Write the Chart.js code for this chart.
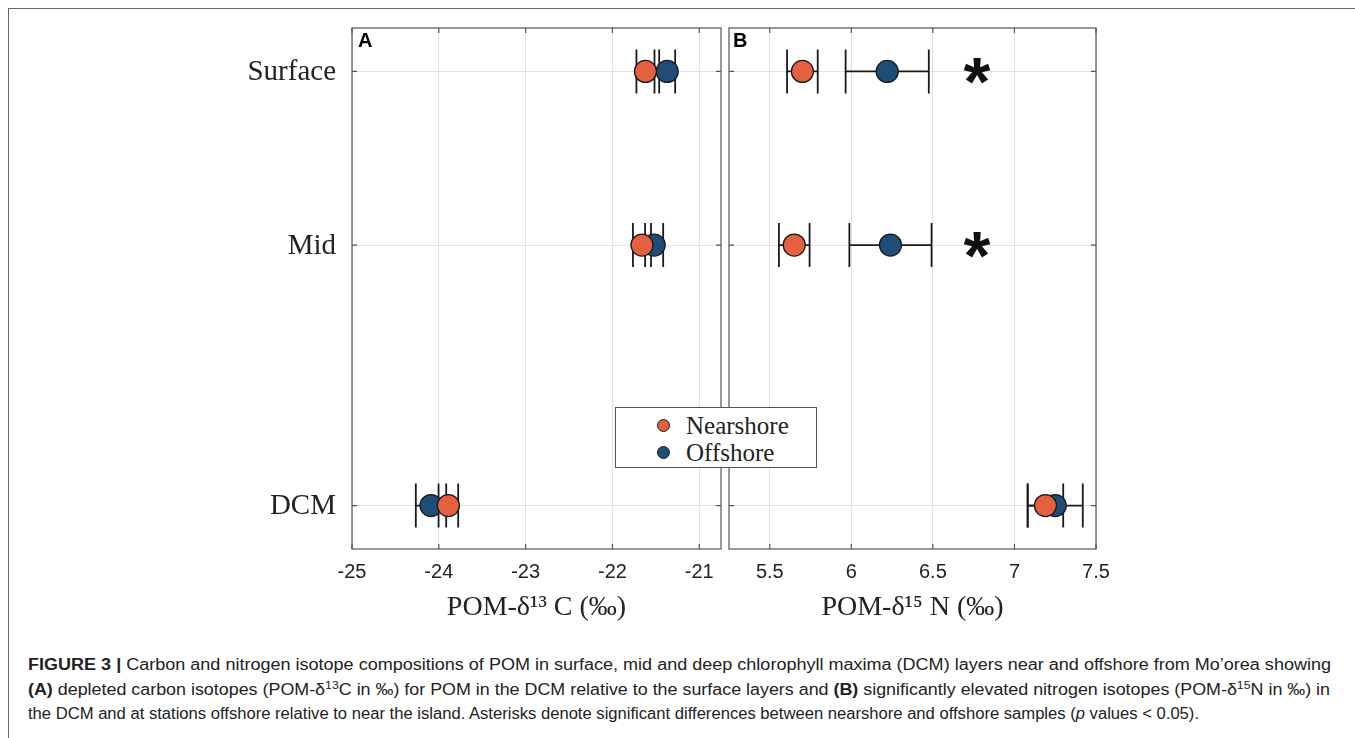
<!DOCTYPE html>
<html>
<head>
<meta charset="utf-8">
<script src="https://cdn.jsdelivr.net/npm/chart.js@4.4.1/dist/chart.umd.min.js"></script>
<style>
html,body{margin:0;padding:0;background:#fff;width:1355px;height:738px;overflow:hidden;position:relative;}
#frame{position:absolute;left:8px;top:8px;width:1400px;height:800px;border-top:1.5px solid #666;border-left:1.5px solid #666;}
#wrapA{position:absolute;left:200px;top:0;width:525px;height:640px;}
#wrapB{position:absolute;left:725px;top:0;width:400px;height:640px;}
canvas{display:block;}
#legend{position:absolute;left:615px;top:407px;width:200px;height:59px;border:1px solid #555;background:#fff;font-family:"Liberation Serif",serif;font-size:25px;color:#222;}
#legend .row{position:absolute;left:0;height:28px;line-height:28px;white-space:nowrap;}
#legend .dot{position:absolute;left:41px;top:7px;width:13px;height:13px;border-radius:50%;border:1px solid #1a1a1a;box-sizing:border-box;}
#legend .txt{position:absolute;left:70px;top:0;}
#caption{position:absolute;left:28px;top:653px;font-family:"Liberation Sans",Arial,sans-serif;font-size:16px;color:#222;}
#caption .cl{height:24.5px;line-height:24.5px;white-space:nowrap;transform-origin:0 50%;}
#caption sup{font-size:11px;line-height:0;vertical-align:6px;}
</style>
</head>
<body>
<div id="frame"></div>
<div id="wrapA"><canvas id="chartA" width="525" height="640"></canvas></div>
<div id="wrapB"><canvas id="chartB" width="400" height="640"></canvas></div>
<div id="legend">
  <div class="row" style="top:4px;width:200px"><span class="dot" id="dotNear"></span><span class="txt" id="txtNear"></span></div>
  <div class="row" style="top:31px;width:200px"><span class="dot" id="dotOff"></span><span class="txt" id="txtOff"></span></div>
</div>
<div id="caption">
  <div class="cl" data-w="1303"><b>FIGURE 3 |</b> Carbon and nitrogen isotope compositions of POM in surface, mid and deep chlorophyll maxima (DCM) layers near and offshore from Mo’orea showing</div>
  <div class="cl" data-w="1302"><b>(A)</b> depleted carbon isotopes (POM-δ<sup>13</sup>C in ‰) for POM in the DCM relative to the surface layers and <b>(B)</b> significantly elevated nitrogen isotopes (POM-δ<sup>15</sup>N in ‰) in</div>
  <div class="cl" data-w="1171">the DCM and at stations offshore relative to near the island. Asterisks denote significant differences between nearshore and offshore samples (<i>p</i> values &lt; 0.05).</div>
</div>
<script>
// ---- data ----
const layers = ['Surface', 'Mid', 'DCM'];
const layerPos = [1, 2, 3.5];
const seriesNames = ['Nearshore', 'Offshore'];
const carbonTicks = [-25, -24, -23, -22, -21];
const nitrogenTicks = [5.5, 6, 6.5, 7, 7.5];
const carbonNear = [-21.62, -21.66, -23.89];
const carbonNearErr = [0.104, 0.104, 0.113];
const carbonOff = [-21.37, -21.52, -24.09];
const carbonOffErr = [0.092, 0.104, 0.175];
const nitrogenNear = [5.70, 5.65, 7.19];
const nitrogenNearErr = [0.094, 0.094, 0.109];
const nitrogenOff = [6.22, 6.24, 7.25];
const nitrogenOffErr = [0.255, 0.252, 0.169];
const significant = [true, true, false];
const asteriskAt = 6.77;

const NEAR_COLOR = '#E5603E';
const OFF_COLOR = '#1E4D78';
const EDGE = '#1a1a1a';
const GRID = '#e2e2e2';
const FRAME = '#555';

document.getElementById('dotNear').style.background = NEAR_COLOR;
document.getElementById('dotOff').style.background = OFF_COLOR;
document.getElementById('txtNear').textContent = seriesNames[0];
document.getElementById('txtOff').textContent = seriesNames[1];

function drawAsterisk(ctx, cx, cy, inkW) {
  ctx.save();
  ctx.font = 'bold 100px "Liberation Sans"';
  let m = ctx.measureText('*');
  const w0 = m.actualBoundingBoxLeft + m.actualBoundingBoxRight;
  const size = 100 * inkW / w0;
  ctx.font = 'bold ' + size + 'px "Liberation Sans"';
  ctx.textAlign = 'left';
  ctx.textBaseline = 'alphabetic';
  m = ctx.measureText('*');
  const dx = cx - (m.actualBoundingBoxRight - m.actualBoundingBoxLeft) / 2;
  const dy = cy + (m.actualBoundingBoxAscent - m.actualBoundingBoxDescent) / 2;
  ctx.fillStyle = '#111';
  ctx.fillText('*', dx, dy);
  ctx.restore();
}

function panelPlugin(cfg) {
  return {
    id: 'panel' + cfg.letter,
    beforeDatasetsDraw(chart) {
      const ctx = chart.ctx, x = chart.scales.x, y = chart.scales.y;
      ctx.save();
      ctx.strokeStyle = EDGE;
      ctx.lineWidth = 1.8;
      chart.data.datasets.forEach(ds => {
        ds.data.forEach((p, i) => {
          const e = ds.err[i];
          const x0 = x.getPixelForValue(p.x - e), x1 = x.getPixelForValue(p.x + e);
          const yy = y.getPixelForValue(p.y);
          ctx.beginPath();
          ctx.moveTo(x0, yy); ctx.lineTo(x1, yy);
          ctx.moveTo(x0, yy - 22); ctx.lineTo(x0, yy + 22);
          ctx.moveTo(x1, yy - 22); ctx.lineTo(x1, yy + 22);
          ctx.stroke();
        });
      });
      ctx.restore();
    },
    afterDraw(chart) {
      const ctx = chart.ctx, a = chart.chartArea, x = chart.scales.x, y = chart.scales.y;
      ctx.save();
      ctx.strokeStyle = FRAME;
      ctx.lineWidth = 1.2;
      ctx.strokeRect(a.left, a.top, a.right - a.left, a.bottom - a.top);
      ctx.beginPath();
      cfg.ticks.forEach(v => {
        const px = x.getPixelForValue(v);
        ctx.moveTo(px, a.top); ctx.lineTo(px, a.top + 5);
        ctx.moveTo(px, a.bottom); ctx.lineTo(px, a.bottom - 5);
      });
      layerPos.forEach(v => {
        const py = y.getPixelForValue(v);
        ctx.moveTo(a.left, py); ctx.lineTo(a.left + 5, py);
        ctx.moveTo(a.right, py); ctx.lineTo(a.right - 5, py);
      });
      ctx.stroke();
      // category labels (left panel only), placed with the y scale
      if (cfg.showY) {
        ctx.fillStyle = '#222';
        ctx.font = '29px "Liberation Serif"';
        ctx.textAlign = 'right';
        ctx.textBaseline = 'middle';
        layers.forEach((lab, i) => ctx.fillText(lab, a.left - 16, y.getPixelForValue(layerPos[i]) + 1));
      }
      ctx.fillStyle = '#000';
      ctx.font = 'bold 20px "Liberation Sans"';
      ctx.textBaseline = 'alphabetic';
      ctx.textAlign = 'left';
      ctx.fillText(cfg.letter, a.left + cfg.letterDx, a.top + 19);
      ctx.restore();
      if (cfg.asterisks) {
        significant.forEach((s, i) => {
          if (s) drawAsterisk(ctx, x.getPixelForValue(asteriskAt), y.getPixelForValue(layerPos[i]), 27);
        });
      }
    }
  };
}

function makeChart(id, cfg) {
  const pointStyle = (color) => ({
    backgroundColor: color, borderColor: EDGE, borderWidth: 1.3,
    pointRadius: 11, pointHoverRadius: 11, showLine: false
  });
  return new Chart(document.getElementById(id), {
    type: 'scatter',
    data: {
      datasets: [
        Object.assign({ label: seriesNames[0], err: cfg.nearErr,
          data: cfg.near.map((v, i) => ({ x: v, y: layerPos[i] })) }, pointStyle(NEAR_COLOR)),
        Object.assign({ label: seriesNames[1], err: cfg.offErr,
          data: cfg.off.map((v, i) => ({ x: v, y: layerPos[i] })) }, pointStyle(OFF_COLOR))
      ]
    },
    options: {
      responsive: false, animation: false, devicePixelRatio: 1,
      layout: { padding: cfg.padding, autoPadding: false },
      plugins: { legend: { display: false }, tooltip: { enabled: false } },
      scales: {
        x: {
          type: 'linear', min: cfg.xmin, max: cfg.xmax,
          afterBuildTicks: s => { s.ticks = cfg.ticks.map(v => ({ value: v })); },
          afterFit: s => { s.height = 91; },
          ticks: { font: { family: 'Liberation Sans', size: 20 }, color: '#222', padding: 0,
                   maxRotation: 0, autoSkip: false, callback: v => String(v) },
          grid: { color: GRID, drawTicks: true, tickLength: 11, tickColor: 'rgba(0,0,0,0)' },
          border: { display: false },
          title: { display: true, text: cfg.title, color: '#222',
                   font: { family: 'Liberation Serif', size: 28 }, padding: { top: 0, bottom: 16 } }
        },
        y: {
          type: 'linear', reverse: true, min: 0.75, max: 3.75,
          afterBuildTicks: s => { s.ticks = layerPos.map(v => ({ value: v })); },
          afterFit: s => { s.width = cfg.yWidth; },
          ticks: { display: false, padding: 0 },
          grid: { color: GRID, drawTicks: false },
          border: { display: false }
        }
      }
    },
    plugins: [panelPlugin(cfg)]
  });
}

makeChart('chartA', {
  letter: 'A', letterDx: 6, near: carbonNear, nearErr: carbonNearErr, off: carbonOff, offErr: carbonOffErr,
  xmin: -25, xmax: -20.75, ticks: carbonTicks, title: 'POM-δ¹³ C (‰)',
  showY: true, yWidth: 152, padding: { top: 28, right: 4, bottom: 0, left: 0 }, asterisks: false
});
makeChart('chartB', {
  letter: 'B', letterDx: 4, near: nitrogenNear, nearErr: nitrogenNearErr, off: nitrogenOff, offErr: nitrogenOffErr,
  xmin: 5.25, xmax: 7.5, ticks: nitrogenTicks, title: 'POM-δ¹⁵ N (‰)',
  showY: false, yWidth: 4, padding: { top: 28, right: 29, bottom: 0, left: 0 }, asterisks: true
});

// fit caption lines to the reference widths
document.querySelectorAll('#caption .cl').forEach(el => {
  const target = parseFloat(el.dataset.w);
  el.style.display = 'inline-block';
  const w = el.getBoundingClientRect().width;
  el.style.display = 'block';
  el.style.transform = 'scaleX(' + (target / w) + ')';
});
</script>
</body>
</html>
